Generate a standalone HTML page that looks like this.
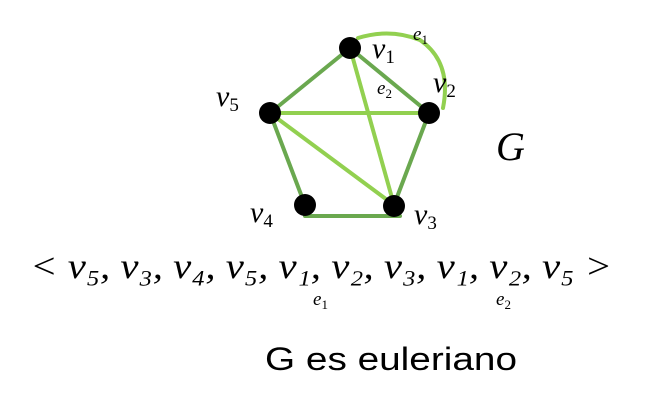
<!DOCTYPE html>
<html><head><meta charset="utf-8"><style>
html,body{margin:0;padding:0;background:#fff;width:663px;height:409px;overflow:hidden}
svg{display:block}
.m{font-family:"Liberation Serif",serif;font-style:italic}
</style></head><body>
<svg width="663" height="409">
<g stroke-width="4" fill="none" stroke-linecap="round">
<line x1="350" y1="48" x2="270" y2="113" stroke="#6aa84f"/>
<line x1="350" y1="48" x2="429" y2="113" stroke="#6aa84f"/>
<line x1="429" y1="113" x2="394" y2="205" stroke="#6aa84f"/>
<line x1="270" y1="113" x2="305" y2="205" stroke="#6aa84f"/>
<line x1="305" y1="216" x2="400" y2="216" stroke="#6aa84f"/>
<line x1="270" y1="113" x2="429" y2="113" stroke="#92d050"/>
<line x1="270" y1="113" x2="394" y2="205" stroke="#92d050"/>
<line x1="350" y1="48" x2="394" y2="205" stroke="#92d050"/>
<path d="M358 38 Q390 28 420 40 Q452 62 443 108" stroke="#92d050"/>
</g>
<g fill="#000">
<circle cx="350" cy="48" r="11"/>
<circle cx="429" cy="113" r="11"/>
<circle cx="270" cy="113" r="11"/>
<circle cx="305" cy="205" r="11"/>
<circle cx="394" cy="206" r="11"/>
</g>
<g class="m" font-size="30">
<text x="372" y="58">v<tspan font-size="19" font-style="normal" dy="5">1</tspan></text>
<text x="433" y="92">v<tspan font-size="19" font-style="normal" dy="5">2</tspan></text>
<text x="216" y="106">v<tspan font-size="19" font-style="normal" dy="5">5</tspan></text>
<text x="250" y="222">v<tspan font-size="19" font-style="normal" dy="5">4</tspan></text>
<text x="414" y="224">v<tspan font-size="19" font-style="normal" dy="5">3</tspan></text>
<text x="413" y="40" font-size="19">e<tspan font-size="13" font-style="normal" dy="4">1</tspan></text>
<text x="377" y="94" font-size="19">e<tspan font-size="13" font-style="normal" dy="4">2</tspan></text>
<text x="496" y="160" font-size="40">G</text>
</g>
<text class="m" x="30" y="278" font-size="36" textLength="582" lengthAdjust="spacingAndGlyphs">&lt; v₅, v₃, v₄, v₅, v₁, v₂, v₃, v₁, v₂, v₅ &gt;</text>
<text class="m" x="313" y="305" font-size="19">e<tspan font-size="13" font-style="normal" dy="4">1</tspan></text>
<text class="m" x="496" y="305" font-size="19">e<tspan font-size="13" font-style="normal" dy="4">2</tspan></text>
<text x="265" y="370" font-family="Liberation Sans, sans-serif" font-size="32" textLength="252" lengthAdjust="spacingAndGlyphs">G es euleriano</text>
</svg>
</body></html>
